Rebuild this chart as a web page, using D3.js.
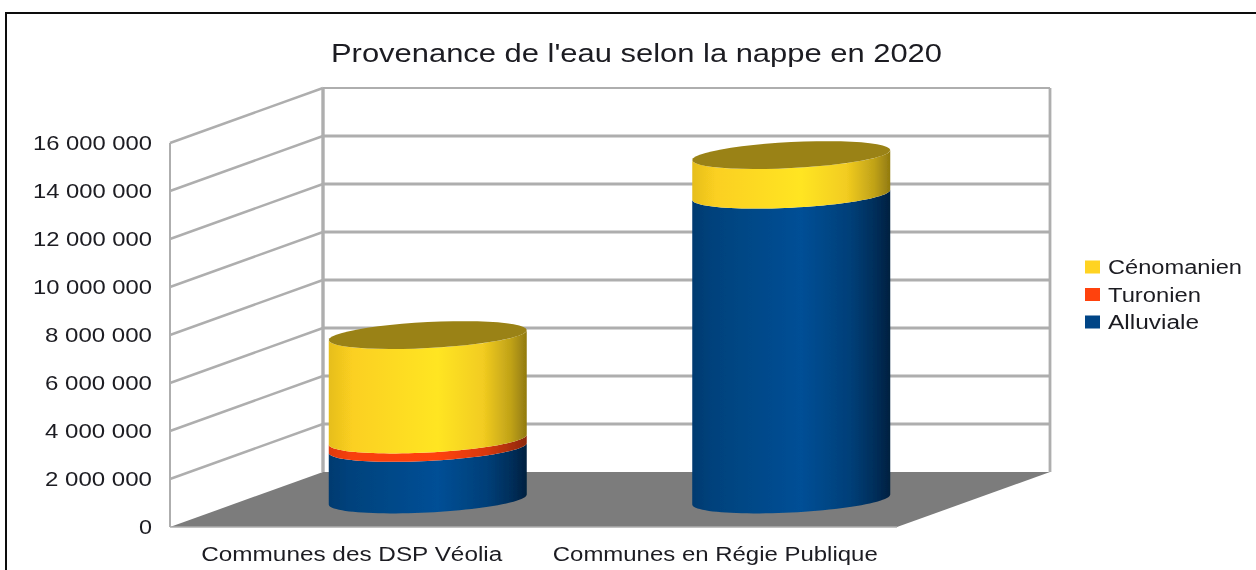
<!DOCTYPE html>
<html><head><meta charset="utf-8">
<script src="https://cdn.jsdelivr.net/npm/d3@7/dist/d3.min.js"></script>
<style>html,body{margin:0;padding:0;background:#fff;overflow:hidden}svg{display:block}
text{font-family:"Liberation Sans",Arial,sans-serif;fill:#1c1c22}</style></head><body>
<svg id="c" width="1256" height="570"></svg>
<script>
const title = "Provenance de l'eau selon la nappe en 2020";
const categories = ["Communes des DSP Véolia", "Communes en Régie Publique"];
const categoryWidths = [301, 325];
const alluviale = [2150000, 12700000];
const turonien = [350000, 0];
const cenomanien = [4350000, 1650000];
const seriesNames = ["Alluviale", "Turonien", "Cénomanien"];
const legendOrder = ["Cénomanien", "Turonien", "Alluviale"];
const legendWidths = [134, 93, 91];
const tickValues = [0, 2e6, 4e6, 6e6, 8e6, 1e7, 1.2e7, 1.4e7, 1.6e7];

const svg = d3.select("#c");
const defs = svg.append("defs");
defs.append("filter").attr("id", "soft").attr("x", "-2%").attr("y", "-2%").attr("width", "104%").attr("height", "104%")
  .append("feGaussianBlur").attr("stdDeviation", 0.55);
const root = svg.append("g").attr("filter", "url(#soft)");
root.append("rect").attr("x", 6).attr("y", 13).attr("width", 1270).attr("height", 600)
  .attr("fill", "#fff").attr("stroke", "#111").attr("stroke-width", 2);

const depthX = 153, depthY = -55;
const x = d3.scaleBand().domain(categories).range([170, 897]);
const y = d3.scaleLinear().domain([0, 16e6]).range([527, 143]);
const grid = "#aeaeae";

// floor
const z0 = y(0);
root.append("path").attr("fill", "#7c7c7c")
  .attr("d", d3.line()([[170, z0], [170 + depthX, z0 + depthY], [897 + depthX, z0 + depthY], [897, z0]]));
// walls
tickValues.filter(v => v > 0).forEach(v => {
  const yy = y(v);
  root.append("path").attr("fill", "none").attr("stroke", grid).attr("stroke-width", 2.4)
    .attr("d", d3.line()([[170, yy], [170 + depthX, yy + depthY]]));
  root.append("path").attr("fill", "none").attr("stroke", grid)
    .attr("stroke-width", v === 16e6 ? 2 : 3)
    .attr("d", d3.line()([[170 + depthX, yy + depthY], [897 + depthX, yy + depthY]]));
});
root.append("path").attr("stroke", grid).attr("stroke-width", 2).attr("d", d3.line()([[170, y(0)], [170, y(16e6)]]));
root.append("path").attr("stroke", grid).attr("stroke-width", 3.4).attr("d", d3.line()([[170 + depthX, y(0) + depthY], [170 + depthX, y(16e6) + depthY]]));
root.append("path").attr("stroke", grid).attr("stroke-width", 2.8).attr("d", d3.line()([[897 + depthX, y(0) + depthY], [897 + depthX, y(16e6) + depthY]]));
root.append("path").attr("stroke", grid).attr("stroke-width", 1.6).attr("d", d3.line()([[170, y(0)], [897, y(0)]]));

// gradients
function grad(id, stops) {
  const g = defs.append("linearGradient").attr("id", id).attr("x1", 0).attr("x2", 1).attr("y1", 0).attr("y2", 0);
  stops.forEach(s => g.append("stop").attr("offset", s[0]).attr("stop-color", s[1]));
}
grad("g0", [[0, "#003a70"], [.1, "#00427c"], [.55, "#004f96"], [.8, "#003f78"], [.93, "#002d58"], [1, "#00203f"]]);
grad("g1", [[0, "#e03a0c"], [.12, "#f8400e"], [.55, "#ff420e"], [.8, "#d8380c"], [1, "#8c2808"]]);
grad("g2", [[0, "#e6be1e"], [.12, "#fbd020"], [.55, "#ffe522"], [.78, "#f2cc20"], [.92, "#c0a218"], [1, "#917a10"]]);
const capColor = "#9a8213";

// cylinders
const rx = 99, skew = 5, lift = 13;
const yc = v => y(v) + depthY / 2;
const arc = (cx, cy, a0, a1) => d3.range(0, 49).map(i => {
  const t = a0 + (a1 - a0) * i / 48;
  return [cx + rx * Math.cos(t), cy - skew * Math.cos(t) - lift * Math.sin(t)];
});
const series = [alluviale, turonien, cenomanien];
categories.forEach((c, i) => {
  const cx = x(c) + x.bandwidth() / 2 + depthX / 2 - 0.5;
  let base = 0;
  series.forEach((s, k) => {
    const v = s[i];
    if (v <= 0) return;
    const lower = arc(cx, yc(base), Math.PI, 2 * Math.PI);
    const upper = arc(cx, yc(base + v), 2 * Math.PI, Math.PI);
    root.append("path").attr("fill", `url(#g${k})`).attr("d", d3.line()(lower.concat(upper)) + "Z");
    base += v;
  });
  root.append("path").attr("fill", capColor).attr("d", d3.line()(arc(cx, yc(base), 0, 2 * Math.PI)) + "Z");
});

// axes
const yAxis = root.append("g").attr("transform", "translate(152,0)")
  .call(d3.axisLeft(y).tickValues(tickValues).tickSize(0).tickPadding(0)
    .tickFormat(d => d3.format(",")(d).replace(/,/g, " ")));
yAxis.select(".domain").remove();
yAxis.selectAll("text").style("font-size", "20px").style("font-family", null)
  .attr("dy", "0.33em").attr("textLength", d => d === 0 ? 13 : (d < 1e7 ? 107 : 119)).attr("lengthAdjust", "spacingAndGlyphs");

const xAxis = root.append("g").attr("transform", `translate(0,${y(0)})`)
  .call(d3.axisBottom(x).tickSize(0).tickPadding(0));
xAxis.select(".domain").remove();
xAxis.selectAll("text").style("font-size", "20px").style("font-family", null)
  .attr("y", 34).attr("dy", 0)
  .attr("textLength", (d, i) => categoryWidths[i]).attr("lengthAdjust", "spacingAndGlyphs");

// title
root.append("text").attr("x", 636.5).attr("y", 62).attr("text-anchor", "middle")
  .style("font-size", "26px").attr("textLength", 611).attr("lengthAdjust", "spacingAndGlyphs").text(title);

// legend
const legendColor = d3.scaleOrdinal().domain(seriesNames).range(["#004586", "#ff420e", "#ffd320"]);
const legendY = d3.scalePoint().domain(legendOrder).range([267, 322]);
legendOrder.forEach((n, i) => {
  root.append("rect").attr("x", 1085).attr("y", legendY(n) - 6.5).attr("width", 15).attr("height", 13).attr("fill", legendColor(n));
  root.append("text").attr("x", 1108).attr("y", legendY(n) + 7).style("font-size", "20px")
    .attr("textLength", legendWidths[i]).attr("lengthAdjust", "spacingAndGlyphs").text(n);
});
</script></body></html>
